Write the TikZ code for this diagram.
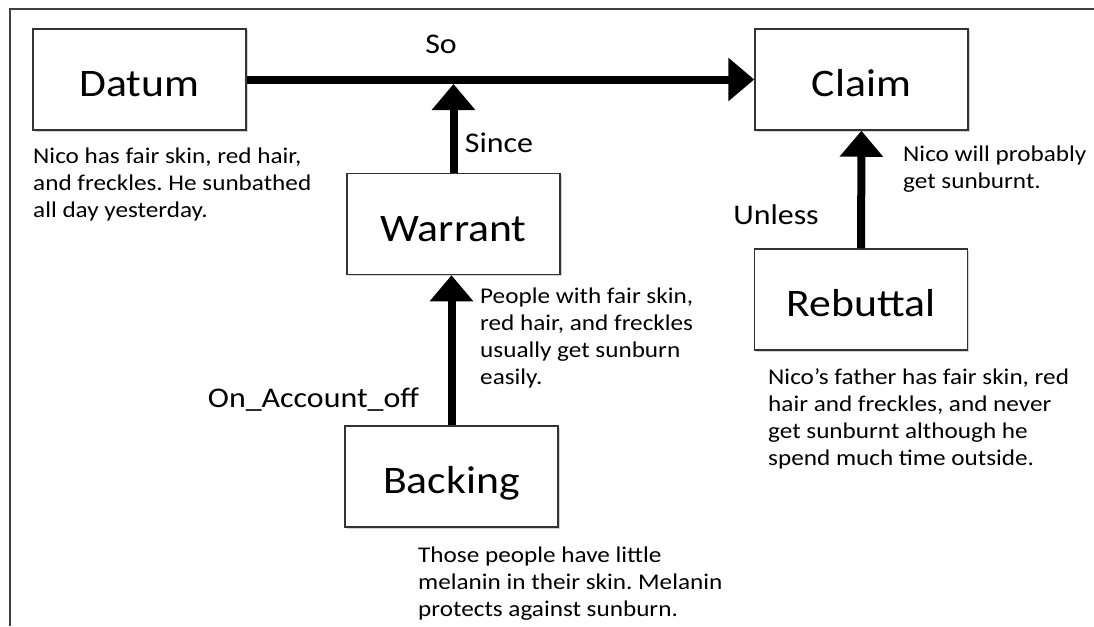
\documentclass[tikz,border=0pt]{standalone}
\usepackage{fontspec}
\setmainfont{Carlito}[FakeStretch=1.12]
\usetikzlibrary{arrows.meta,shadows}
\frenchspacing

\begin{document}
\begin{tikzpicture}
  [x=1pt,y=-1pt,
   part/.style={rectangle, draw=black!80, line width=1.5pt, fill=white, inner sep=0pt,
     minimum width=213pt, minimum height=101pt, text height=34pt, text depth=0pt,
     font=\fontsize{39}{44}\selectfont,
     drop shadow={shadow xshift=1.5pt, shadow yshift=-1.5pt, opacity=.35}},
   note/.style={anchor=base west, align=left, inner sep=0pt, font=\fontsize{22.5}{27}\selectfont},
   link/.style={anchor=base, inner sep=0pt, font=\fontsize{28.5}{32}\selectfont},
   flow/.style={line width=8pt, -{Triangle[width=42pt,length=26pt]}}]
  \useasboundingbox (0,0) rectangle (1094,626);
  \draw[line width=2pt, black!75] (10,626) -- (10,9.5) -- (1094,9.5);

  \node[part] (datum) at (139.5,79.5) {Datum};
  \node[part] (claim) at (861.5,79.5) {Claim};
  \node[part] (warrant) at (453.5,224) {Warrant};
  \node[part] (backing) at (451.5,476.5) {Backing};
  \node[part] (rebuttal) at (861,299.5) {Rebuttal};

  % notes sit on the baseline of their last line
  \node[note] (datum_note) at (33,217) {Nico has fair skin, red hair,\\and freckles. He sunbathed\\all day yesterday.};
  \node[note] (claim_note) at (903,188) {Nico will probably\\get sunburnt.};
  \node[note] (warrant_note) at (480,384) {People with fair skin,\\red hair, and freckles\\usually get sunburn\\easily.};
  \node[note] (backing_note) at (418,616) {Those people have little\\melanin in their skin. Melanin\\protects against sunburn.};
  \node[note] (rebuttal_note) at (768,465) {Nico’s father has fair skin, red\\hair and freckles, and never\\get sunburnt although he\\spend much time outside.};

  \node[link] (so) at (441,53) {So};
  \node[link] (since) at (499,152) {Since};
  \node[link] (unless) at (776,224) {Unless};
  \node[link] (account) at (313.5,407) {On\_Account\_off};

  \coordinate (joint) at (453.5,84);
  \draw[flow] (datum) -- (claim);
  \draw[flow] (warrant.north) -- (joint);
  \draw[flow] (backing.north) -- (backing.north |- warrant.south);
  \draw[flow] (rebuttal) -- (claim);
\end{tikzpicture}
\end{document}
